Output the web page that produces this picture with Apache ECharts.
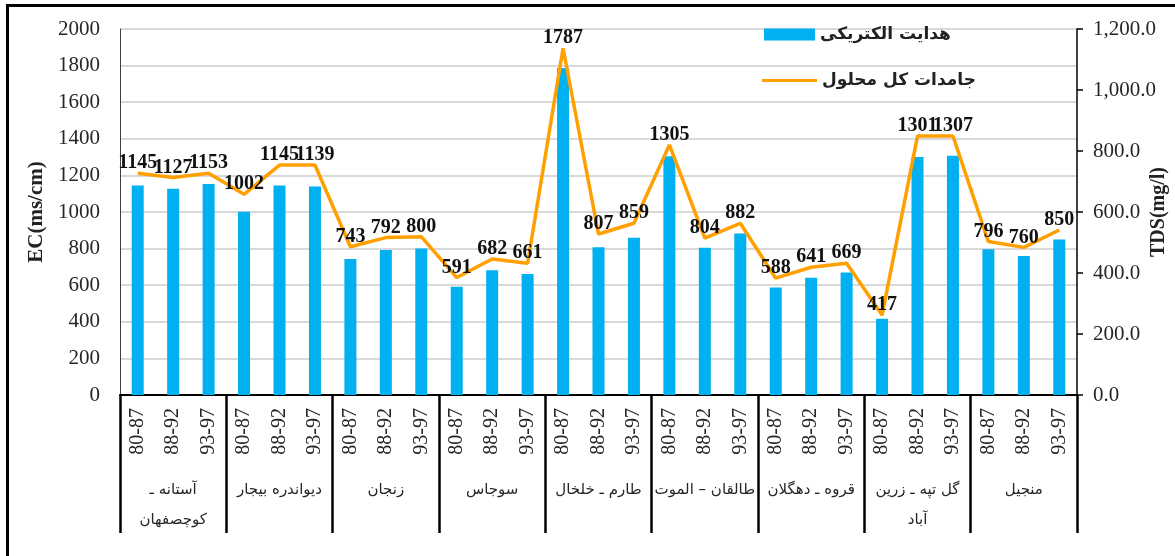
<!DOCTYPE html>
<html>
<head>
<meta charset="utf-8">
<script src="https://cdn.jsdelivr.net/npm/echarts@6/dist/echarts.min.js"></script>
<style>
  html, body { margin: 0; padding: 0; background: #fff; }
  #chart { width: 1175px; height: 556px; }
  .frame {
    position: absolute; left: 6px; top: 4px; width: 1200px; height: 600px;
    border-left: 3px solid #000; border-top: 3px solid #000; pointer-events: none;
  }
</style>
</head>
<body>
<div id="chart"></div>
<div class="frame"></div>
<script>
const stations = [
  'آستانه ـ\nکوچصفهان', 'دیواندره بیجار', 'زنجان', 'سوجاس', 'طارم ـ خلخال',
  'طالقان – الموت', 'قروه ـ دهگلان', 'گل تپه ـ زرین\nآباد', 'منجیل'
]
const periods = ['80-87', '88-92', '93-97']
const ecValues = [1145, 1127, 1153, 1002, 1145, 1139, 743, 792, 800, 591, 682, 661, 1787, 807, 859,
  1305, 804, 882, 588, 641, 669, 417, 1301, 1307, 796, 760, 850]
const tdsValues = [727, 713, 727, 658, 754, 754, 486, 516, 519, 385, 446, 432, 1137, 528, 563,
  820, 514, 563, 383, 419, 432, 262, 849, 849, 503, 484, 541]
const ecTicks = { min: 0, max: 2000, interval: 200 }
const tdsTicks = { min: 0, max: 1200, interval: 200 }
const seriesNames = ['هدایت الکتریکی', 'جامدات کل محلول']

const categories = stations.flatMap(() => periods)

const serif = '"Liberation Serif", "Times New Roman", serif'
const arabic = '"DejaVu Sans", sans-serif'

const chart = echarts.init(document.getElementById('chart'))

chart.setOption({
  animation: false,
  backgroundColor: '#fff',
  grid: { left: 120, right: 98, top: 29, bottom: 161, outerBoundsMode: 'none', containLabel: false },
  legend: [
    {
      data: [seriesNames[0]],
      left: 759, top: 21,
      icon: 'rect', itemWidth: 51, itemHeight: 12, itemGap: 8,
      textStyle: { fontFamily: arabic, fontSize: 17, fontWeight: 'bold', color: '#222' },
    },
    {
      data: [seriesNames[1]],
      left: 757, top: 67,
      icon: 'rect', itemWidth: 55, itemHeight: 3,
      textStyle: { fontFamily: arabic, fontSize: 17, fontWeight: 'bold', color: '#222' },
    },
  ],
  xAxis: [
    {
      type: 'category',
      data: categories,
      axisLine: { lineStyle: { color: '#000', width: 2 } },
      axisTick: { show: false },
      axisLabel: {
        rotate: 90, margin: 13, interval: 0,
        fontFamily: serif, fontSize: 20, color: '#262626',
      },
    },
    {
      type: 'category',
      data: stations,
      position: 'bottom',
      axisLine: { show: false },
      axisTick: { show: true, length: 138, lineStyle: { color: '#000', width: 2.5 } },
      axisLabel: {
        margin: 80, interval: 0, lineHeight: 30,
        fontFamily: arabic, fontSize: 15, color: '#262626',
      },
    },
  ],
  yAxis: [
    {
      type: 'value',
      ...ecTicks,
      name: 'EC(ms/cm)',
      nameLocation: 'middle', nameRotate: 90, nameGap: 70,
      nameTextStyle: { fontFamily: serif, fontSize: 21, fontWeight: 'bold', color: '#222' },
      axisLine: { show: true, lineStyle: { color: '#404040', width: 1 } },
      axisTick: { show: false },
      axisLabel: {
        fontFamily: serif, fontSize: 21, color: '#262626', margin: 20,
        formatter: (v) => String(v),
      },
      splitLine: { lineStyle: { color: '#d9d9d9', width: 2 } },
    },
    {
      type: 'value',
      ...tdsTicks,
      position: 'right',
      name: 'TDS(mg/l)',
      nameLocation: 'middle', nameRotate: 90, nameGap: 72, nameMoveOverlap: false,
      nameTextStyle: { fontFamily: serif, fontSize: 20, fontWeight: 'bold', color: '#222' },
      axisLine: { show: true, lineStyle: { color: '#000', width: 1.5 } },
      axisTick: { show: true, inside: false, length: 6, lineStyle: { color: '#000', width: 1.5 } },
      axisLabel: {
        fontFamily: serif, fontSize: 21, color: '#262626', margin: 16,
        formatter: (v) => v.toLocaleString('en-US', { minimumFractionDigits: 1, maximumFractionDigits: 1 }),
      },
      splitLine: { show: false },
    },
  ],
  series: [
    {
      name: seriesNames[0],
      type: 'bar',
      data: ecValues,
      barWidth: 12,
      itemStyle: { color: '#00b0f0' },
    },
    {
      name: seriesNames[1],
      type: 'line',
      yAxisIndex: 1,
      data: tdsValues,
      symbol: 'circle',
      symbolSize: 0.1,
      lineStyle: { color: '#ff9f00', width: 3.5 },
      itemStyle: { color: '#ff9f00' },
      label: {
        show: true, position: 'top', distance: 0,
        fontFamily: serif, fontSize: 20, fontWeight: 'bold', color: '#111',
        formatter: (p) => ecValues[p.dataIndex],
      },
      z: 3,
    },
  ],
})
</script>
</body>
</html>
